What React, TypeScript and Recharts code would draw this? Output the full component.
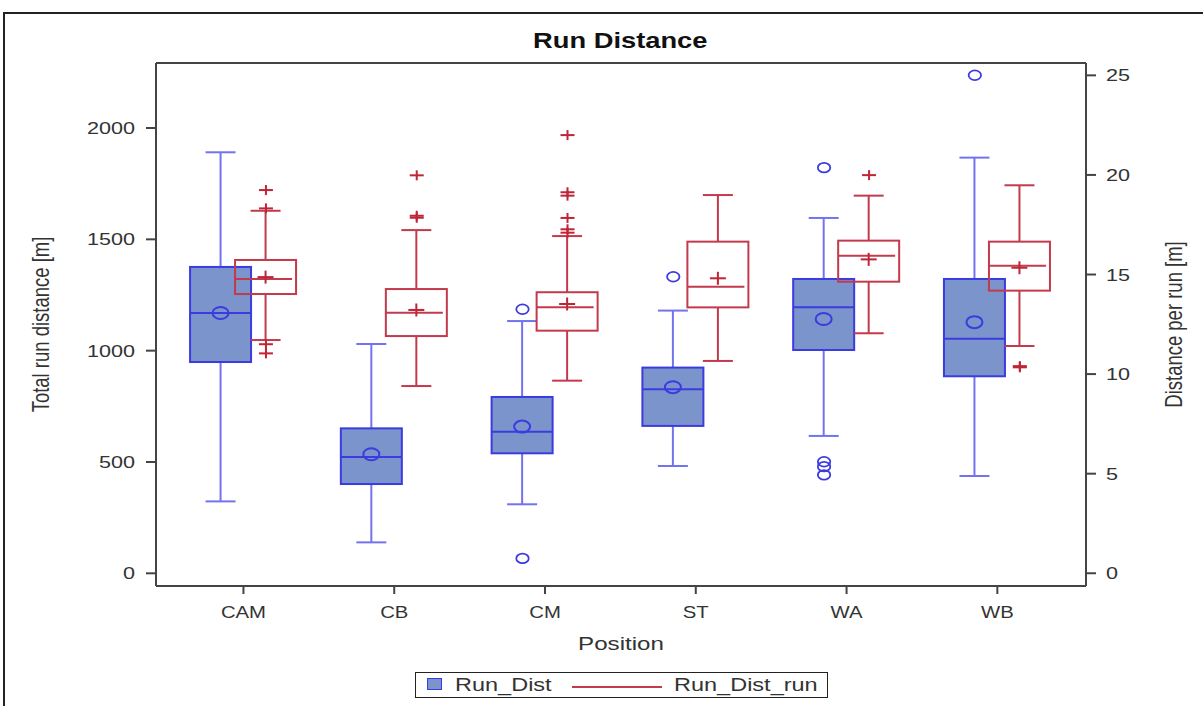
import React from 'react';
import { Bar, ComposedChart, Label, ReferenceLine, Scatter, XAxis, YAxis } from 'recharts';

const POSITIONS = ['CAM', 'CB', 'CM', 'ST', 'WA', 'WB'];

// Run_Dist: total run distance [m] (left axis)
const DIST_MIN = [323, 139, 310, 482, 617, 437];
const DIST_Q1 = [949, 401, 539, 662, 1003, 885];
const DIST_MEDIAN = [1169, 522, 636, 827, 1195, 1054];
const DIST_MEAN = [1169, 535, 659, 836, 1142, 1128];
const DIST_Q3 = [1376, 651, 792, 924, 1322, 1322];
const DIST_MAX = [1891, 1030, 1133, 1180, 1596, 1867];
const DIST_OUTLIERS = [[], [], [1186, 67], [1332], [1822, 501, 479, 442], [2237]];

// Run_Dist_run: distance per run [m] (right axis)
const RUN_MIN = [11.71, 9.4, 9.67, 10.66, 12.05, 11.41];
const RUN_Q1 = [14.02, 11.91, 12.18, 13.35, 14.64, 14.19];
const RUN_MEDIAN = [14.77, 13.08, 13.35, 14.39, 15.94, 15.44];
const RUN_MEAN = [14.87, 13.22, 13.52, 14.81, 15.76, 15.34];
const RUN_Q3 = [15.73, 14.27, 14.11, 16.65, 16.7, 16.65];
const RUN_MAX = [18.2, 17.23, 16.93, 18.99, 18.96, 19.48];
const RUN_OUTLIERS = [
  [19.24, 18.32, 11.5, 11.04],
  [19.98, 17.95, 17.85],
  [22.0, 19.13, 18.96, 17.84, 17.27, 17.1],
  [],
  [19.99],
  [10.4, 10.34],
];

const LEFT_TICKS = [0, 500, 1000, 1500, 2000];
const RIGHT_TICKS = [0, 5, 10, 15, 20, 25];
const LEFT_DOMAIN = [-57, 2292];
const RIGHT_DOMAIN = [-0.64, 25.62];
const X_DOMAIN = [-0.58, 5.588];

const rows = POSITIONS.map((pos, i) => ({
  idx: i,
  pos,
  dMin: DIST_MIN[i],
  dQ1: DIST_Q1[i],
  dMed: DIST_MEDIAN[i],
  dMean: DIST_MEAN[i],
  dQ3: DIST_Q3[i],
  dMax: DIST_MAX[i],
  rMin: RUN_MIN[i],
  rQ1: RUN_Q1[i],
  rMed: RUN_MEDIAN[i],
  rMean: RUN_MEAN[i],
  rQ3: RUN_Q3[i],
  rMax: RUN_MAX[i],
}));
const distOutliers = DIST_OUTLIERS.flatMap((vals, i) => vals.map((v) => ({ idx: i, v })));
const runOutliers = RUN_OUTLIERS.flatMap((vals, i) => vals.map((v) => ({ idx: i, v })));

const FONT = '"Liberation Sans", Arial, sans-serif';
const SX = 1.27; // the source image is stretched horizontally
const TEXT = '#333';
const AXIS = '#444';
const BLUE_FILL = '#7B94CB';
const BLUE_EDGE = '#3B3BDF';
const BLUE_WHISKER = '#7373F0';
const RED = '#C23A4C';
const RED_DARK = '#BF2437';
const BOX_W = 61;
const CAP_W = 30;
const BAR_SIZE = 45;
const OFFSET = BAR_SIZE / 2;

const DistBox = (props: any) => {
  const { x, y, width, height, payload: d } = props;
  const py = (v: number) => y + (height * (d.dMax - v)) / (d.dMax - d.dMin);
  const cx = x + width / 2;
  return (
    <g>
      <line x1={cx} x2={cx} y1={py(d.dMax)} y2={py(d.dQ3)} stroke={BLUE_WHISKER} strokeWidth={2} />
      <line x1={cx} x2={cx} y1={py(d.dQ1)} y2={py(d.dMin)} stroke={BLUE_WHISKER} strokeWidth={2} />
      <line x1={cx - CAP_W / 2} x2={cx + CAP_W / 2} y1={py(d.dMax)} y2={py(d.dMax)} stroke={BLUE_WHISKER} strokeWidth={2} />
      <line x1={cx - CAP_W / 2} x2={cx + CAP_W / 2} y1={py(d.dMin)} y2={py(d.dMin)} stroke={BLUE_WHISKER} strokeWidth={2} />
      <rect x={cx - BOX_W / 2} y={py(d.dQ3)} width={BOX_W} height={py(d.dQ1) - py(d.dQ3)} fill={BLUE_FILL} stroke={BLUE_EDGE} strokeWidth={2} />
      <line x1={cx - BOX_W / 2} x2={cx + BOX_W / 2} y1={py(d.dMed)} y2={py(d.dMed)} stroke={BLUE_EDGE} strokeWidth={2} />
      <ellipse cx={cx} cy={py(d.dMean)} rx={8} ry={6} fill="none" stroke={BLUE_EDGE} strokeWidth={2} />
    </g>
  );
};

const RunBox = (props: any) => {
  const { x, y, width, height, payload: d } = props;
  const py = (v: number) => y + (height * (d.rMax - v)) / (d.rMax - d.rMin);
  const cx = x + width / 2;
  const m = py(d.rMean);
  return (
    <g>
      <line x1={cx} x2={cx} y1={py(d.rMax)} y2={py(d.rQ3)} stroke={RED} strokeWidth={2} />
      <line x1={cx} x2={cx} y1={py(d.rQ1)} y2={py(d.rMin)} stroke={RED} strokeWidth={2} />
      <line x1={cx - CAP_W / 2} x2={cx + CAP_W / 2} y1={py(d.rMax)} y2={py(d.rMax)} stroke={RED} strokeWidth={2} />
      <line x1={cx - CAP_W / 2} x2={cx + CAP_W / 2} y1={py(d.rMin)} y2={py(d.rMin)} stroke={RED} strokeWidth={2} />
      <rect x={cx - BOX_W / 2} y={py(d.rQ3)} width={BOX_W} height={py(d.rQ1) - py(d.rQ3)} fill="none" stroke={RED} strokeWidth={2} />
      <line x1={cx - BOX_W / 2} x2={cx + BOX_W / 2 - 4} y1={py(d.rMed)} y2={py(d.rMed)} stroke={RED} strokeWidth={2} />
      <line x1={cx - 8} x2={cx + 8} y1={m} y2={m} stroke={RED_DARK} strokeWidth={2} />
      <line x1={cx} x2={cx} y1={m - 6.5} y2={m + 6.5} stroke={RED_DARK} strokeWidth={2} />
    </g>
  );
};

const CircleMark = (p: any) => (
  <ellipse cx={p.cx - OFFSET} cy={p.cy} rx={6.2} ry={4.8} fill="none" stroke={BLUE_EDGE} strokeWidth={1.8} />
);

const PlusMark = (p: any) => (
  <g stroke={RED_DARK} strokeWidth={2}>
    <line x1={p.cx + OFFSET - 7} x2={p.cx + OFFSET + 7} y1={p.cy} y2={p.cy} />
    <line x1={p.cx + OFFSET} x2={p.cx + OFFSET} y1={p.cy - 5} y2={p.cy + 5} />
  </g>
);

const LeftTick = (p: any) => (
  <text transform={`translate(${p.x},${p.y + 6}) scale(${SX},1)`} textAnchor="end" fontSize={17} fontFamily={FONT} fill={TEXT}>
    {p.payload.value}
  </text>
);

const RightTick = (p: any) => (
  <text transform={`translate(${p.x},${p.y + 6}) scale(${SX},1)`} textAnchor="start" fontSize={17} fontFamily={FONT} fill={TEXT}>
    {p.payload.value}
  </text>
);

const BottomTick = (p: any) => (
  <text transform={`translate(${p.x},${p.y + 20}) scale(${SX},1)`} textAnchor="middle" fontSize={16} fontFamily={FONT} fill={TEXT}>
    {POSITIONS[p.payload.value]}
  </text>
);

const VerticalTitle = (text: string, dx: number) => (props: any) => {
  const vb = props.viewBox;
  const cy = vb.y + vb.height / 2;
  return (
    <text transform={`translate(${vb.x + dx},${cy}) scale(${SX},1) rotate(-90)`} textAnchor="middle" fontSize={18.5} fontFamily={FONT} fill={TEXT}>
      {text}
    </text>
  );
};

const BottomTitle = (props: any) => {
  const vb = props.viewBox;
  return (
    <text transform={`translate(${vb.x + vb.width / 2},${vb.y + 64}) scale(${SX},1)`} textAnchor="middle" fontSize={19} fontFamily={FONT} fill={TEXT}>
      Position
    </text>
  );
};

const stretched = (extra: React.CSSProperties = {}): React.CSSProperties => ({
  position: 'absolute',
  transform: `scaleX(${SX})`,
  transformOrigin: 'left top',
  whiteSpace: 'nowrap',
  fontFamily: FONT,
  color: TEXT,
  ...extra,
});

export default function App() {
  return (
    <div style={{ position: 'absolute', left: 0, top: 0, width: 1203, height: 706, overflow: 'hidden', background: '#fff' }}>
      <div style={{ position: 'absolute', left: 3, top: 12, width: 1260, height: 760, border: '2px solid #222' }} />
      <div style={stretched({ left: 533, top: 29, fontSize: 21.5, fontWeight: 'bold', color: '#111', lineHeight: '24px' })}>Run Distance</div>

      <div style={{ position: 'absolute', left: 0, top: 0 }}>
        <ComposedChart width={1203} height={706} data={rows} margin={{ top: 63, right: 0, bottom: 60, left: 0 }} barGap={0}>
          <XAxis
            dataKey="idx"
            type="number"
            domain={X_DOMAIN}
            ticks={[0, 1, 2, 3, 4, 5]}
            interval={0}
            allowDataOverflow
            height={60}
            tick={BottomTick}
            tickSize={8}
            tickMargin={4}
            axisLine={{ stroke: AXIS, strokeWidth: 2 }}
            tickLine={{ stroke: AXIS, strokeWidth: 2 }}
          >
            <Label content={BottomTitle} />
          </XAxis>
          <YAxis
            yAxisId="left"
            orientation="left"
            width={156}
            domain={LEFT_DOMAIN}
            ticks={LEFT_TICKS}
            allowDataOverflow
            tick={LeftTick}
            tickSize={10}
            tickMargin={11}
            axisLine={{ stroke: AXIS, strokeWidth: 2 }}
            tickLine={{ stroke: AXIS, strokeWidth: 2 }}
          >
            <Label content={VerticalTitle('Total run distance [m]', 49)} />
          </YAxis>
          <YAxis
            yAxisId="right"
            orientation="right"
            width={117}
            domain={RIGHT_DOMAIN}
            ticks={RIGHT_TICKS}
            allowDataOverflow
            tick={RightTick}
            tickSize={10}
            tickMargin={10}
            axisLine={{ stroke: AXIS, strokeWidth: 2 }}
            tickLine={{ stroke: AXIS, strokeWidth: 2 }}
          >
            <Label content={VerticalTitle('Distance per run [m]', 96)} />
          </YAxis>
          <ReferenceLine yAxisId="left" y={LEFT_DOMAIN[1]} stroke={AXIS} strokeWidth={2} />
          <Bar yAxisId="left" dataKey={(d: any) => [d.dMin, d.dMax]} barSize={BAR_SIZE} shape={DistBox} isAnimationActive={false} />
          <Bar yAxisId="right" dataKey={(d: any) => [d.rMin, d.rMax]} barSize={BAR_SIZE} shape={RunBox} isAnimationActive={false} />
          <Scatter yAxisId="left" data={distOutliers} dataKey="v" shape={CircleMark} isAnimationActive={false} />
          <Scatter yAxisId="right" data={runOutliers} dataKey="v" shape={PlusMark} isAnimationActive={false} />
        </ComposedChart>
      </div>

      <div style={{ position: 'absolute', left: 415, top: 672, width: 411, height: 24, border: '1.5px solid #222' }}>
        <div style={{ position: 'absolute', left: 11, top: 5, width: 13, height: 10, background: BLUE_FILL, border: `1.5px solid ${BLUE_EDGE}` }} />
        <div style={stretched({ left: 39, top: 1, fontSize: 18.5, lineHeight: '22px' })}>Run_Dist</div>
        <div style={{ position: 'absolute', left: 156, top: 13, width: 90, height: 0, borderTop: `2px solid ${RED}` }} />
        <div style={stretched({ left: 258, top: 1, fontSize: 18.5, lineHeight: '22px' })}>Run_Dist_run</div>
      </div>
    </div>
  );
}
